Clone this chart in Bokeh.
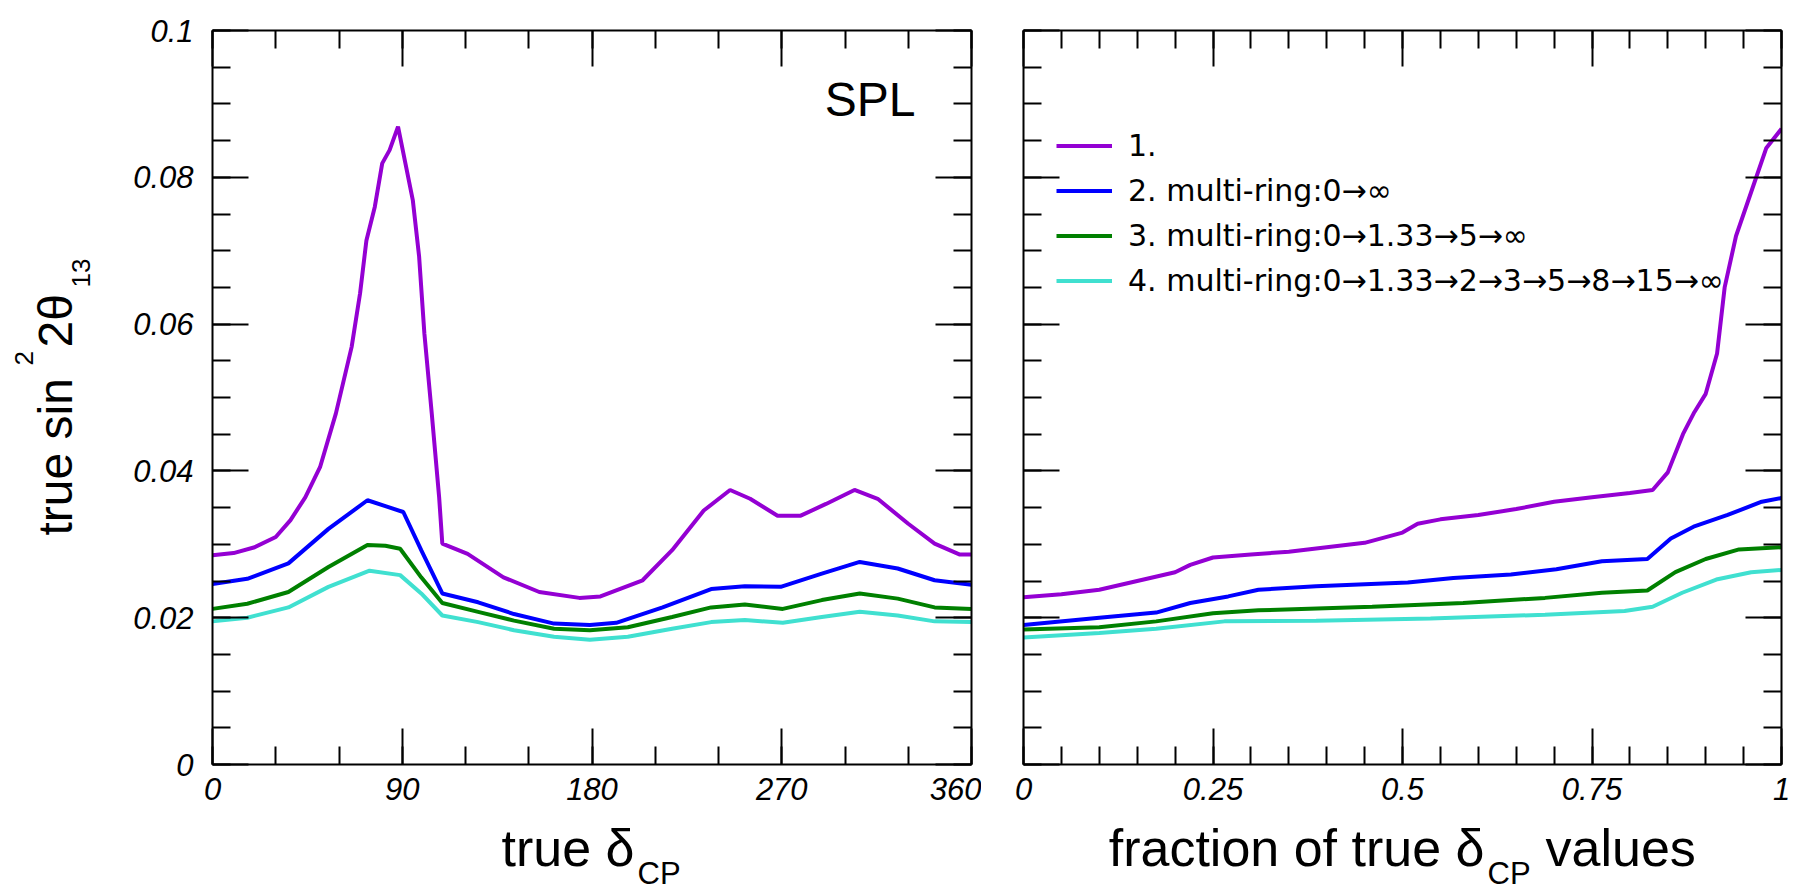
from bokeh.plotting import figure
from bokeh.models import FixedTicker, LinearAxis, Label, Legend, LegendItem, Range1d
from bokeh.layouts import row, column
from bokeh.embed import file_html
from bokeh.resources import INLINE

# ---- left panel: sin^2(2theta13) reach vs true delta_CP (degrees) ----
dcp_1 = [0, 10, 20, 30, 37, 44, 51, 58.5, 66, 70, 73, 77, 80.5, 84, 88, 91.5, 95, 98,
         100.5, 104, 107.5, 109, 121, 138, 155, 174, 184, 204, 218, 233, 245.5, 255, 268,
         279, 291, 304.5, 315.5, 330, 342.5, 354.5, 360]
s2t_1 = [0.0285, 0.0288, 0.0296, 0.0310, 0.0333, 0.0364, 0.0405, 0.0478, 0.0569, 0.0642,
         0.0714, 0.0760, 0.0819, 0.0837, 0.0869, 0.0819, 0.0769, 0.0692, 0.0587, 0.0478,
         0.0364, 0.0301, 0.0287, 0.0255, 0.0235, 0.0227, 0.0229, 0.0251, 0.0292, 0.0346,
         0.0374, 0.0362, 0.0339, 0.0339, 0.0355, 0.0374, 0.0362, 0.0328, 0.0301, 0.0286, 0.0286]

dcp_2 = [0, 16.5, 36, 55, 73.5, 82, 90.5, 99, 109, 126, 143, 162, 179, 191.5, 213.5, 236.5,
         252.5, 269.5, 289, 307, 325, 342.5, 360]
s2t_2 = [0.0246, 0.0253, 0.0274, 0.0321, 0.0360, 0.0352, 0.0344, 0.0292, 0.0233, 0.0221,
         0.0205, 0.0192, 0.0190, 0.0193, 0.0214, 0.0239, 0.0243, 0.0242, 0.0260, 0.0276,
         0.0267, 0.0251, 0.0245]

dcp_3 = [0, 16.5, 36, 55, 73.5, 82, 89, 99, 109, 126, 143, 162, 179, 197, 218, 236.5, 252.5,
         270.5, 289, 307, 325, 342.5, 360]
s2t_3 = [0.0212, 0.0219, 0.0235, 0.0269, 0.0299, 0.0298, 0.0294, 0.0255, 0.0220, 0.0208,
         0.0196, 0.0185, 0.0183, 0.0187, 0.0201, 0.0214, 0.0218, 0.0212, 0.0224, 0.0233,
         0.0226, 0.0214, 0.0212]

dcp_4 = [0, 16.5, 36, 55, 74.5, 89, 99, 109, 126, 143, 162, 179, 197, 218, 236.5, 252.5,
         270.5, 289, 307, 325, 342.5, 360]
s2t_4 = [0.0195, 0.0200, 0.0214, 0.0242, 0.0264, 0.0258, 0.0233, 0.0203, 0.0194, 0.0183,
         0.0174, 0.0170, 0.0174, 0.0185, 0.0194, 0.0197, 0.0193, 0.0201, 0.0208, 0.0203,
         0.0195, 0.0194]

# ---- right panel: same reach vs fraction of true delta_CP values ----
frac_1 = [0, 0.05, 0.1, 0.15, 0.2, 0.22, 0.25, 0.3, 0.35, 0.4, 0.45, 0.5, 0.52, 0.55, 0.6,
          0.65, 0.7, 0.75, 0.8, 0.83, 0.85, 0.87, 0.885, 0.9, 0.915, 0.925, 0.94, 0.96, 0.98, 1.0]
cum_1 = [0.0228, 0.0232, 0.0238, 0.0250, 0.0262, 0.0272, 0.0282, 0.0286, 0.0290, 0.0296,
         0.0302, 0.0316, 0.0328, 0.0334, 0.0340, 0.0348, 0.0358, 0.0364, 0.0370, 0.0374,
         0.0398, 0.0450, 0.0480, 0.0505, 0.0560, 0.0650, 0.0720, 0.0780, 0.0840, 0.0866]

frac_2 = [0, 0.1, 0.175, 0.22, 0.27, 0.31, 0.386, 0.507, 0.567, 0.643, 0.703, 0.763, 0.823,
          0.854, 0.884, 0.929, 0.974, 1.0]
cum_2 = [0.0190, 0.0200, 0.0207, 0.0220, 0.0229, 0.0238, 0.0243, 0.0248, 0.0254, 0.0259,
         0.0266, 0.0277, 0.0280, 0.0308, 0.0324, 0.0340, 0.0358, 0.0363]

frac_3 = [0, 0.1, 0.175, 0.25, 0.31, 0.46, 0.58, 0.688, 0.763, 0.823, 0.86, 0.9, 0.944, 1.0]
cum_3 = [0.0184, 0.0187, 0.0195, 0.0206, 0.0210, 0.0215, 0.0220, 0.0227, 0.0234, 0.0237,
         0.0262, 0.0280, 0.0293, 0.0296]

frac_4 = [0, 0.1, 0.175, 0.265, 0.386, 0.537, 0.688, 0.793, 0.83, 0.869, 0.914, 0.96, 1.0]
cum_4 = [0.0173, 0.0179, 0.0185, 0.0195, 0.0196, 0.0199, 0.0204, 0.0209, 0.0215, 0.0234,
         0.0252, 0.0262, 0.0265]

series_labels = ["1.", "2. multi-ring:0\u2192\u221e", "3. multi-ring:0\u21921.33\u21925\u2192\u221e",
                 "4. multi-ring:0\u21921.33\u21922\u21923\u21925\u21928\u219215\u2192\u221e"]
series_colors = ["#9400d3", "#0000ff", "#008000", "#40e0d0"]

# ticks
y_major = [0, 0.02, 0.04, 0.06, 0.08, 0.1]
y_major_labels = ["0", "0.02", "0.04", "0.06", "0.08", "0.1"]
y_minor = [i * 0.005 for i in range(21)]
dcp_major = [0, 90, 180, 270, 360]
dcp_minor = [i * 30 for i in range(13)]
frac_major = [0, 0.25, 0.5, 0.75, 1]
frac_major_labels = ["0", "0.25", "0.5", "0.75", "1"]
frac_minor = [i * 0.05 for i in range(21)]

# page geometry (pixels from the top-left corner)
W, H = 1794, 892
STRIP_W = 100             # left strip holding the rotated y title
TOP, BOTTOM = 30, 764     # plot frames
PLOTS_H = 816             # height of the row holding both panels
L_X0, L_X1 = 212, 971
R_X0, R_X1 = 1023, 1781
LEFT_W = L_X1 + 10 - STRIP_W
RIGHT_W = W - STRIP_W - LEFT_W

TITLE_FONT = "Liberation Sans"
TICK_FONT = "Liberation Sans"
TICK_SIZE = 31
MID = 0.36   # distance from a text's vertical middle down to its baseline, in em


def bare_fig(width, height, x_range, y_range):
    p = figure(width=width, height=height, x_range=x_range, y_range=y_range,
               output_backend="svg", toolbar_location=None, min_border=0,
               x_axis_type=None, y_axis_type=None)
    p.xgrid.visible = False
    p.ygrid.visible = False
    p.outline_line_color = None
    p.background_fill_color = "white"
    p.border_fill_color = "white"
    return p


def make_panel(width, border_left, border_right, x_range):
    p = figure(width=width, height=PLOTS_H, x_range=x_range, y_range=Range1d(0, 0.1),
               output_backend="svg", toolbar_location=None,
               min_border_left=border_left, min_border_right=border_right,
               min_border_top=TOP, min_border_bottom=PLOTS_H - BOTTOM,
               x_axis_type=None, y_axis_type=None)
    p.xgrid.visible = False
    p.ygrid.visible = False
    p.outline_line_color = None
    p.background_fill_color = "white"
    p.border_fill_color = "white"
    return p


def base_axis(ticker):
    ax = LinearAxis(ticker=ticker)
    ax.axis_line_color = "black"
    ax.axis_line_width = 2
    for kind in ("major", "minor"):
        setattr(ax, kind + "_tick_line_color", "black")
        setattr(ax, kind + "_tick_line_width", 2)
        setattr(ax, kind + "_tick_out", 0)
    ax.major_tick_in = 36
    ax.minor_tick_in = 18
    ax.major_label_standoff = 0
    return ax


def labelled_axis(ticks, minor, labels, standoff):
    ax = base_axis(FixedTicker(ticks=ticks, minor_ticks=minor))
    ax.major_label_overrides = {t: s for t, s in zip(ticks, labels)}
    ax.major_label_text_font = TICK_FONT
    ax.major_label_text_font_style = "italic"
    ax.major_label_text_font_size = f"{TICK_SIZE}px"
    ax.major_label_text_color = "black"
    ax.major_label_standoff = standoff
    return ax


def tick_only_axes(p, side, ticks, minor):
    # an unlabelled side: long ticks and short ticks from two stacked axes
    short = base_axis(FixedTicker(ticks=[], minor_ticks=minor))
    long_ = base_axis(FixedTicker(ticks=[], minor_ticks=ticks))
    long_.minor_tick_in = 36
    long_.axis_line_color = None
    p.add_layout(short, side)
    p.add_layout(long_, side)


def put(p, x, y, text, size, align="left", angle=0):
    p.add_layout(Label(x=x, y=y, text=text, text_font=TITLE_FONT,
                       text_font_size=f"{size}px", text_align=align,
                       text_baseline="middle", angle=angle, angle_units="deg",
                       text_color="black"))


# ---------------- left panel ----------------
p1 = make_panel(LEFT_W, L_X0 - STRIP_W, L_X1 + 10 - L_X1, Range1d(0, 360))
p1.add_layout(labelled_axis(dcp_major, dcp_minor, [str(v) for v in dcp_major], 13), "below")
p1.add_layout(labelled_axis(y_major, y_minor, y_major_labels, 19), "left")
tick_only_axes(p1, "above", dcp_major, dcp_minor)
tick_only_axes(p1, "right", y_major, y_minor)
for xs, ys, c in [(dcp_1, s2t_1, series_colors[0]), (dcp_2, s2t_2, series_colors[1]),
                  (dcp_3, s2t_3, series_colors[2]), (dcp_4, s2t_4, series_colors[3])]:
    p1.line(xs, ys, line_color=c, line_width=4)

spl_x = (915 - L_X0) / (L_X1 - L_X0) * 360
spl_y = (BOTTOM - (116 - MID * 48)) / (BOTTOM - TOP) * 0.1
put(p1, spl_x, spl_y, "SPL", 48, align="right")

# ---------------- right panel ----------------
p2 = make_panel(RIGHT_W, R_X0 - (L_X1 + 10), W - R_X1, Range1d(0, 1))
p2.add_layout(labelled_axis(frac_major, frac_minor, frac_major_labels, 13), "below")
tick_only_axes(p2, "left", y_major, y_minor)
tick_only_axes(p2, "above", frac_major, frac_minor)
tick_only_axes(p2, "right", y_major, y_minor)
renderers = []
for xs, ys, c in [(frac_1, cum_1, series_colors[0]), (frac_2, cum_2, series_colors[1]),
                  (frac_3, cum_3, series_colors[2]), (frac_4, cum_4, series_colors[3])]:
    renderers.append(p2.line(xs, ys, line_color=c, line_width=4))

legend = Legend(items=[LegendItem(label=lab, renderers=[r])
                       for lab, r in zip(series_labels, renderers)],
                location=(33, 461), glyph_width=56, glyph_height=45, label_height=45,
                spacing=0, padding=0, margin=0, label_standoff=16,
                label_text_font="DejaVu Sans", label_text_font_size="30px",
                label_text_color="black",
                background_fill_alpha=0, border_line_alpha=0)
p2.add_layout(legend)

# ---------------- axis titles ----------------
# left strip, coordinates in page pixels (y downwards); rotated text has its
# baseline towards +x
ytitle = bare_fig(STRIP_W, H, Range1d(0, STRIP_W), Range1d(H, 0))
put(ytitle, 72 - MID * 48, 535, "true sin", 48, angle=90)
put(ytitle, 33 - MID * 26, 365, "2", 26, angle=90)
put(ytitle, 72 - MID * 48, 347, "2\u03b8", 48, angle=90)
put(ytitle, 90 - MID * 26, 287, "13", 26, angle=90)

# bottom strip, coordinates in page pixels (y downwards)
xtitle = bare_fig(W - STRIP_W, H - PLOTS_H, Range1d(STRIP_W, W), Range1d(H, PLOTS_H))
base_big, base_sub = 866 - MID * 52, 884 - MID * 31
put(xtitle, 634, base_big, "true \u03b4", 52, align="right")
put(xtitle, 637, base_sub, "CP", 31)
put(xtitle, 1484, base_big, "fraction of true \u03b4", 52, align="right")
put(xtitle, 1487, base_sub, "CP", 31)
put(xtitle, 1545, base_big, "values", 52)

layout = row(ytitle, column(row(p1, p2, spacing=0), xtitle, spacing=0), spacing=0)
open("out.html", "w").write(file_html(layout, INLINE))
